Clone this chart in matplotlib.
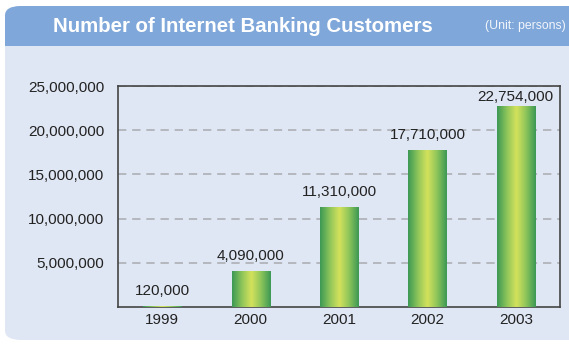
import numpy as np
import matplotlib
matplotlib.use("Agg")
import matplotlib.pyplot as plt
from matplotlib.patches import FancyBboxPatch, Rectangle
from matplotlib.colors import LinearSegmentedColormap
from matplotlib.ticker import FuncFormatter

plt.rcParams['font.family'] = ['Liberation Sans', 'DejaVu Sans']

# Data
years = ["1999", "2000", "2001", "2002", "2003"]
customers = [120000, 4090000, 11310000, 17710000, 22754000]
y_ticks = [5000000, 10000000, 15000000, 20000000, 25000000]

title = "Number of Internet Banking Customers"
unit_note = "(Unit: persons)"

DPI = 100
W, H = 569, 345
fig = plt.figure(figsize=(W / DPI, H / DPI), dpi=DPI)
fig.patch.set_facecolor("white")


def fx(px):
    return px / W


def fy(py):
    return 1 - py / H


# Rounded panel with a blue header band
panel_left, panel_top, panel_right, panel_bottom = 5, 6, 590, 340
panel = FancyBboxPatch((fx(panel_left), fy(panel_bottom)),
                       fx(panel_right - panel_left), (panel_bottom - panel_top) / H,
                       boxstyle="round,pad=0,rounding_size=0.028",
                       transform=fig.transFigure, facecolor="#e0e7f4",
                       edgecolor="none", zorder=-2)
fig.patches.append(panel)
header = Rectangle((fx(panel_left), fy(46)), fx(panel_right - panel_left), (46 - panel_top) / H,
                   transform=fig.transFigure, facecolor="#7fa7d9", edgecolor="none", zorder=-1)
header.set_clip_path(panel)
fig.patches.append(header)

fig.text(fx(53), fy(26), title, color="white", fontsize=14.7, fontweight="bold",
         ha="left", va="center", zorder=3)
fig.text(fx(566), fy(26), unit_note, color="#f2f5fb", fontsize=8.8,
         ha="right", va="center", zorder=3)

# Plot area
ax_left, ax_right, ax_top, ax_bottom = 118, 560, 86, 307
ax = fig.add_axes([fx(ax_left), fy(ax_bottom), fx(ax_right - ax_left), (ax_bottom - ax_top) / H])
ax.set_facecolor("none")
ax.set_zorder(2)

x = np.arange(len(years))
bars = ax.bar(x, customers, width=0.43, color="none", edgecolor="none", zorder=3)

cmap = LinearSegmentedColormap.from_list(
    "bar_grad", ["#3b9855", "#8cc45a", "#d5e25c", "#8cc45a", "#3b9855"])
grad = np.linspace(0, 1, 256).reshape(1, -1)
for patch in bars:
    x0 = patch.get_x()
    w = patch.get_width()
    h = patch.get_height()
    im = ax.imshow(grad, cmap=cmap, aspect="auto", extent=[x0, x0 + w, 0, h],
                   interpolation="bicubic", zorder=3)
    im.set_clip_path(patch)

ax.set_xlim(-0.5, len(years) - 0.5)
ax.set_ylim(0, 25000000)

# Value labels sit above each bar, pushed down when they would cross the top frame
label_gap_px = 11
top_margin_px = 15
for xi, v in zip(x, customers):
    bar_top_px = ax.transData.transform((xi, v))[1]
    axes_top_px = ax.transData.transform((xi, ax.get_ylim()[1]))[1]
    gap_px = min(label_gap_px, axes_top_px - bar_top_px - top_margin_px)
    ax.annotate(f"{v:,}", (xi, v), xytext=(0, gap_px * 72 / DPI), textcoords="offset points",
                ha="center", va="baseline", fontsize=11, color="#222222", zorder=4)

ax.set_xticks(x)
ax.set_xticklabels(years)
ax.set_yticks(y_ticks)
ax.yaxis.set_major_formatter(FuncFormatter(lambda v, p: f"{int(v):,}"))
ax.tick_params(axis="both", length=0, labelsize=11, labelcolor="#222222")
ax.tick_params(axis="y", pad=10)
ax.tick_params(axis="x", pad=4)

ax.yaxis.grid(True, linestyle=(0, (5, 3.5)), color="#adb0b5", linewidth=1.2, zorder=1)
ax.set_axisbelow(True)
for s in ax.spines.values():
    s.set_color("#444444")
    s.set_linewidth(1.2)

fig.savefig("out.png", dpi=DPI)
